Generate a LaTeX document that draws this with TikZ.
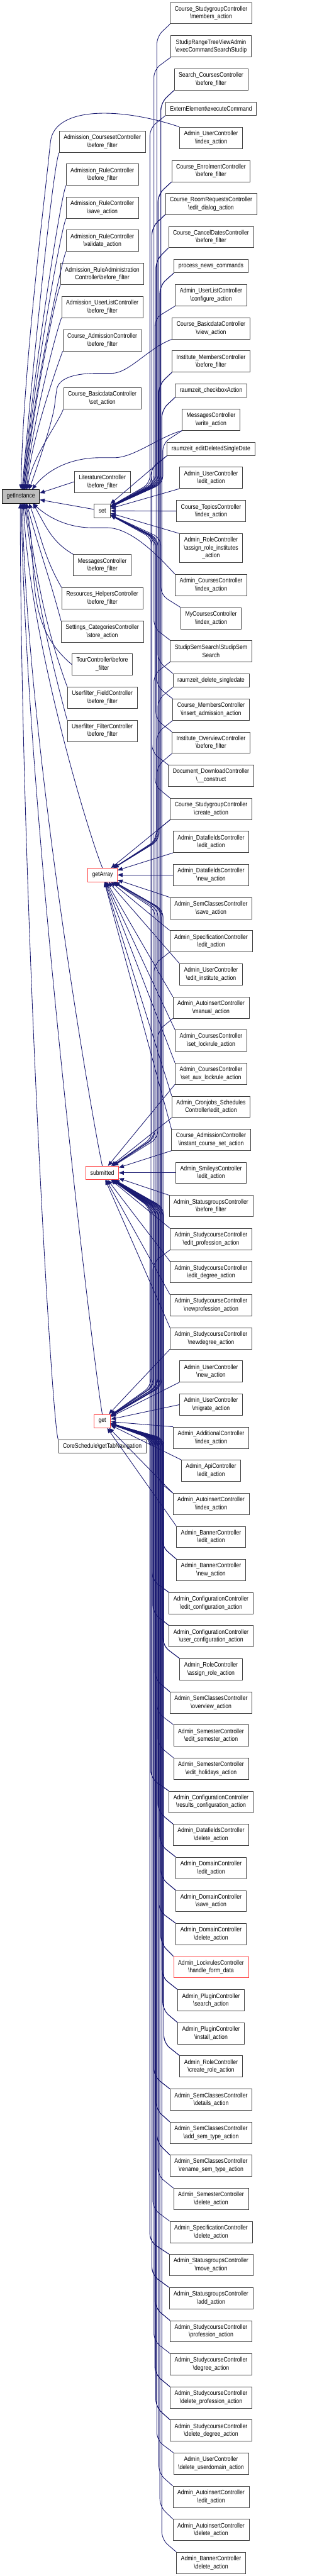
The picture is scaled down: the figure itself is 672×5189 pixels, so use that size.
\documentclass[tikz,border=0pt]{standalone}
\usepackage{fontspec}
\setmainfont{Liberation Sans}[FakeStretch=0.85]
\usetikzlibrary{arrows.meta, calc}
\definecolor{edgeblue}{RGB}{25,25,112}
\definecolor{boxgrey}{RGB}{64,64,64}
\definecolor{hotred}{RGB}{255,64,64}
\definecolor{rootgrey}{RGB}{191,191,191}
\newcommand{\bsl}{\textbackslash}

\begin{document}
\begin{tikzpicture}[x=1pt, y=1pt,
      fn/.style={draw=boxgrey, line width=1pt, fill=white, align=center, minimum height=43pt, inner xsep=9pt, font=\fontsize{13}{16}\selectfont},
      fn1/.style={fn, minimum height=27pt},
      fn3/.style={fn, minimum height=58pt},
      hot/.style={fn, draw=hotred},
      hub/.style={fn1, draw=hotred},
      root/.style={fn1, draw=black, fill=rootgrey},
      call/.style={draw=edgeblue, line width=1.1pt, rounded corners=15pt, -{Triangle[length=10pt,width=8pt]}},
      viadn/.style 2 args={to path={-- ($(\tikztostart -| \tikztotarget)+(#1,-25)$) -- ($(\tikztotarget)+(#1,#2)$) -- (\tikztotarget)}},
      viaup/.style 2 args={to path={-- ($(\tikztostart -| \tikztotarget)+(#1,25)$) -- ($(\tikztotarget)+(#1,-#2)$) -- (\tikztotarget)}},
    ]
      \useasboundingbox (0,0) rectangle (672,-5189);

      \node[root] (gi) at (42,-1000) {getInstance};
      \node[fn] (m1) at (206,-285.5) {Admission\_CoursesetController\\\bsl before\_filter};
      \node[fn] (m2) at (206,-352) {Admission\_RuleController\\\bsl before\_filter};
      \node[fn] (m3) at (206,-418.5) {Admission\_RuleController\\\bsl save\_action};
      \node[fn] (m4) at (206,-485) {Admission\_RuleController\\\bsl validate\_action};
      \node[fn] (m5) at (206,-552) {Admission\_RuleAdministration\\Controller\bsl before\_filter};
      \node[fn] (m6) at (206,-618.5) {Admission\_UserListController\\\bsl before\_filter};
      \node[fn] (m7) at (206,-685.5) {Course\_AdmissionController\\\bsl before\_filter};
      \node[fn] (m8) at (206,-802.5) {Course\_BasicdataController\\\bsl set\_action};
      \node[fn] (m9) at (206,-970.5) {LiteratureController\\\bsl before\_filter};
      \node[fn1] (set) at (206,-1029) {set};
      \node[fn] (m10) at (206,-1138.5) {MessagesController\\\bsl before\_filter};
      \node[fn] (m11) at (206,-1205.5) {Resources\_HelpersController\\\bsl before\_filter};
      \node[fn] (m12) at (206,-1272) {Settings\_CategoriesController\\\bsl store\_action};
      \node[fn] (m13) at (206,-1338.5) {TourController\bsl before\\\_filter};
      \node[fn] (m14) at (206,-1405.5) {Userfilter\_FieldController\\\bsl before\_filter};
      \node[fn] (m15) at (206,-1472) {Userfilter\_FilterController\\\bsl before\_filter};
      \node[hub] (ga) at (206.5,-1762.5) {getArray};
      \node[hub] (sub) at (206,-2362.5) {submitted};
      \node[hub] (get) at (206,-2862.5) {get};
      \node[fn1] (core) at (206,-2913.5) {CoreSchedule\bsl getTabNavigation};

      \node[fn] (r1) at (425,-26.5) {Course\_StudygroupController\\\bsl members\_action};
      \node[fn] (r2) at (425,-93.5) {StudipRangeTreeViewAdmin\\\bsl execCommandSearchStudip};
      \node[fn] (r3) at (425,-160) {Search\_CoursesController\\\bsl before\_filter};
      \node[fn1] (r4) at (425,-219) {ExternElement\bsl executeCommand};
      \node[fn] (r5) at (425,-277.5) {Admin\_UserController\\\bsl index\_action};
      \node[fn] (r6) at (425,-344.5) {Course\_EnrolmentController\\\bsl before\_filter};
      \node[fn] (r7) at (425,-410.5) {Course\_RoomRequestsController\\\bsl edit\_dialog\_action};
      \node[fn] (r8) at (425,-477.5) {Course\_CancelDatesController\\\bsl before\_filter};
      \node[fn1] (r9) at (425,-536) {process\_news\_commands};
      \node[fn] (r10) at (425,-594.5) {Admin\_UserListController\\\bsl configure\_action};
      \node[fn] (r11) at (425,-661.5) {Course\_BasicdataController\\\bsl view\_action};
      \node[fn] (r12) at (425,-728) {Institute\_MembersController\\\bsl before\_filter};
      \node[fn1] (r13) at (425,-786.5) {raumzeit\_checkboxAction};
      \node[fn] (r14) at (425,-845.5) {MessagesController\\\bsl write\_action};
      \node[fn1] (r15) at (425,-904) {raumzeit\_editDeletedSingleDate};
      \node[fn] (r16) at (425,-962.5) {Admin\_UserController\\\bsl edit\_action};
      \node[fn] (r17) at (425,-1029.5) {Course\_TopicsController\\\bsl index\_action};
      \node[fn3] (r18) at (425,-1104) {Admin\_RoleController\\\bsl assign\_role\_institutes\\\_action};
      \node[fn] (r19) at (425,-1178.5) {Admin\_CoursesController\\\bsl index\_action};
      \node[fn] (r20) at (425,-1245.5) {MyCoursesController\\\bsl index\_action};
      \node[fn] (r21) at (425,-1311.5) {StudipSemSearch\bsl StudipSem\\Search};
      \node[fn1] (r22) at (425,-1370.5) {raumzeit\_delete\_singledate};
      \node[fn] (r23) at (425,-1429.5) {Course\_MembersController\\\bsl insert\_admission\_action};
      \node[fn] (r24) at (425,-1496) {Institute\_OverviewController\\\bsl before\_filter};
      \node[fn] (r25) at (425,-1562.5) {Document\_DownloadController\\\bsl \_\_construct};
      \node[fn] (r26) at (425,-1629.5) {Course\_StudygroupController\\\bsl create\_action};
      \node[fn] (r27) at (425,-1696) {Admin\_DatafieldsController\\\bsl edit\_action};
      \node[fn] (r28) at (425,-1762.5) {Admin\_DatafieldsController\\\bsl new\_action};
      \node[fn] (r29) at (425,-1829.5) {Admin\_SemClassesController\\\bsl save\_action};
      \node[fn] (r30) at (425,-1896) {Admin\_SpecificationController\\\bsl edit\_action};
      \node[fn] (r31) at (425,-1962.5) {Admin\_UserController\\\bsl edit\_institute\_action};
      \node[fn] (r32) at (425,-2029.5) {Admin\_AutoinsertController\\\bsl manual\_action};
      \node[fn] (r33) at (425,-2096) {Admin\_CoursesController\\\bsl set\_lockrule\_action};
      \node[fn] (r34) at (425,-2162.5) {Admin\_CoursesController\\\bsl set\_aux\_lockrule\_action};
      \node[fn] (r35) at (425,-2229.5) {Admin\_Cronjobs\_Schedules\\Controller\bsl edit\_action};
      \node[fn] (r36) at (425,-2296) {Course\_AdmissionController\\\bsl instant\_course\_set\_action};
      \node[fn] (r37) at (425,-2362.5) {Admin\_SmileysController\\\bsl edit\_action};
      \node[fn] (r38) at (425,-2429.5) {Admin\_StatusgroupsController\\\bsl before\_filter};
      \node[fn] (r39) at (425,-2496) {Admin\_StudycourseController\\\bsl edit\_profession\_action};
      \node[fn] (r40) at (425,-2562.5) {Admin\_StudycourseController\\\bsl edit\_degree\_action};
      \node[fn] (r41) at (425,-2629.5) {Admin\_StudycourseController\\\bsl newprofession\_action};
      \node[fn] (r42) at (425,-2696) {Admin\_StudycourseController\\\bsl newdegree\_action};
      \node[fn] (r43) at (425,-2762.5) {Admin\_UserController\\\bsl new\_action};
      \node[fn] (r44) at (425,-2829.5) {Admin\_UserController\\\bsl migrate\_action};
      \node[fn] (r45) at (425,-2896) {Admin\_AdditionalController\\\bsl index\_action};
      \node[fn] (r46) at (425,-2962.5) {Admin\_ApiController\\\bsl edit\_action};
      \node[fn] (r47) at (425,-3029.5) {Admin\_AutoinsertController\\\bsl index\_action};
      \node[fn] (r48) at (425,-3096) {Admin\_BannerController\\\bsl edit\_action};
      \node[fn] (r49) at (425,-3162.5) {Admin\_BannerController\\\bsl new\_action};
      \node[fn] (r50) at (425,-3229.5) {Admin\_ConfigurationController\\\bsl edit\_configuration\_action};
      \node[fn] (r51) at (425,-3296) {Admin\_ConfigurationController\\\bsl user\_configuration\_action};
      \node[fn] (r52) at (425,-3362.5) {Admin\_RoleController\\\bsl assign\_role\_action};
      \node[fn] (r53) at (425,-3429.5) {Admin\_SemClassesController\\\bsl overview\_action};
      \node[fn] (r54) at (425,-3496) {Admin\_SemesterController\\\bsl edit\_semester\_action};
      \node[fn] (r55) at (425,-3562.5) {Admin\_SemesterController\\\bsl edit\_holidays\_action};
      \node[fn] (r56) at (425,-3629.5) {Admin\_ConfigurationController\\\bsl results\_configuration\_action};
      \node[fn] (r57) at (425,-3696) {Admin\_DatafieldsController\\\bsl delete\_action};
      \node[fn] (r58) at (425,-3762.5) {Admin\_DomainController\\\bsl edit\_action};
      \node[fn] (r59) at (425,-3829.5) {Admin\_DomainController\\\bsl save\_action};
      \node[fn] (r60) at (425,-3896) {Admin\_DomainController\\\bsl delete\_action};
      \node[hot] (r61) at (425,-3962.5) {Admin\_LockrulesController\\\bsl handle\_form\_data};
      \node[fn] (r62) at (425,-4029.5) {Admin\_PluginController\\\bsl search\_action};
      \node[fn] (r63) at (425,-4096) {Admin\_PluginController\\\bsl install\_action};
      \node[fn] (r64) at (425,-4162.5) {Admin\_RoleController\\\bsl create\_role\_action};
      \node[fn] (r65) at (425,-4229.5) {Admin\_SemClassesController\\\bsl details\_action};
      \node[fn] (r66) at (425,-4296) {Admin\_SemClassesController\\\bsl add\_sem\_type\_action};
      \node[fn] (r67) at (425,-4362.5) {Admin\_SemClassesController\\\bsl rename\_sem\_type\_action};
      \node[fn] (r68) at (425,-4429.5) {Admin\_SemesterController\\\bsl delete\_action};
      \node[fn] (r69) at (425,-4496) {Admin\_SpecificationController\\\bsl delete\_action};
      \node[fn] (r70) at (425,-4562.5) {Admin\_StatusgroupsController\\\bsl move\_action};
      \node[fn] (r71) at (425,-4629.5) {Admin\_StatusgroupsController\\\bsl add\_action};
      \node[fn] (r72) at (425,-4696) {Admin\_StudycourseController\\\bsl profession\_action};
      \node[fn] (r73) at (425,-4762.5) {Admin\_StudycourseController\\\bsl degree\_action};
      \node[fn] (r74) at (425,-4829.5) {Admin\_StudycourseController\\\bsl delete\_profession\_action};
      \node[fn] (r75) at (425,-4896) {Admin\_StudycourseController\\\bsl delete\_degree\_action};
      \node[fn] (r76) at (425,-4962.5) {Admin\_UserController\\\bsl delete\_userdomain\_action};
      \node[fn] (r77) at (425,-5029.5) {Admin\_AutoinsertController\\\bsl edit\_action};
      \node[fn] (r78) at (425,-5096) {Admin\_AutoinsertController\\\bsl delete\_action};
      \node[fn] (r79) at (425,-5162.5) {Admin\_BannerController\\\bsl delete\_action};

      \draw[call] (m1.south west) to[out=250, in=85, out distance=40pt, in distance=220pt] (gi.80);
      \draw[call] (m2.south west) to[out=250, in=85, out distance=40pt, in distance=200pt] (gi.75);
      \draw[call] (m3.south west) to[out=250, in=85, out distance=40pt, in distance=180pt] (gi.70);
      \draw[call] (m4.south west) to[out=250, in=85, out distance=40pt, in distance=160pt] (gi.65);
      \draw[call] (m5.south west) to[out=250, in=85, out distance=40pt, in distance=140pt] (gi.60);
      \draw[call] (m6.south west) to[out=250, in=85, out distance=40pt, in distance=120pt] (gi.55);
      \draw[call] (m7.south west) to[out=250, in=85, out distance=40pt, in distance=100pt] (gi.50);
      \draw[call] (m8.south west) to[out=250, in=85, out distance=30pt, in distance=60pt] (gi.45);
      \draw[call] (m9.west) -- (gi.10); \draw[call] (set) -- (gi.-10);
      \draw[call] (m10.north west) to[out=150, in=-60] (gi.-30);
      \draw[call] (m11.north west) to[out=120, in=-70] (gi.-40);
      \draw[call] (m12.north west) to[out=105, in=-75] (gi.-50);
      \draw[call] (m13.west) to[out=140, in=-78] (gi.-55);
      \draw[call] (m14.north west) to[out=110, in=-80] (gi.-60);
      \draw[call] (m15.north west) to[out=105, in=-82] (gi.-65);
      \draw[call] (ga.north) .. controls (185,-1700) and (60,-1300) .. (gi.-70);
      \draw[call] (sub.north) .. controls (185,-2250) and (55,-1500) .. (gi.-78);
      \draw[call] (get.north) .. controls (190,-2760) and (50,-1600) .. (gi.-85);
      \draw[call] (core.north west) .. controls (105,-2880) and (42,-1800) .. (gi.-95);

      \draw[call] (r5.north west) .. controls (240,-215) and (110,-215) .. (100,-300) .. controls (90,-400) and (45,-760) .. (gi.88);
      \draw[call] (r11.south west) .. controls (300,-700) and (260,-752) .. (210,-752) .. controls (160,-752) and (118,-758) .. (112,-800) .. controls (106,-850) and (75,-940) .. (gi.40);
      \draw[call] (r14.south west) .. controls (320,-880) and (270,-922) .. (215,-922) .. controls (160,-922) and (105,-935) .. (gi.32);
      \draw[call] (r19.north west) .. controls (310,-1110) and (260,-1063) .. (200,-1063) .. controls (140,-1063) and (100,-1045) .. (gi.-30);

      \draw[call] (r1.south west) to[viadn={110}{55}] (set); \draw[call] (r2.south west) to[viadn={104}{55}] (set);
      \draw[call] (r3.south west) to[viadn={118}{55}] (set); \draw[call] (r4.south west) to[viadn={96}{55}] (set);
      \draw[call] (r6.south west) to[viadn={112}{55}] (set); \draw[call] (r7.south west) to[viadn={100}{55}] (set);
      \draw[call] (r8.south west) to[viadn={108}{55}] (set); \draw[call] (r9.south west) to[viadn={116}{55}] (set);
      \draw[call] (r10.south west) to[viadn={106}{55}] (set); \draw[call] (r12.south west) to[viadn={114}{55}] (set);
      \draw[call] (r13.south west) to[viadn={120}{55}] (set); \draw[call] (r14.south west) to[viadn={122}{55}] (set);
      \draw[call] (r15.south west) -- (set); \draw[call] (r16.south west) -- (set);
      \draw[call] (r17.west) -- (set); \draw[call] (r18.north west) -- (set);
      \draw[call] (r20.north west) to[viaup={118}{55}] (set); \draw[call] (r21.north west) to[viaup={104}{55}] (set);
      \draw[call] (r22.north west) to[viaup={112}{55}] (set); \draw[call] (r23.north west) to[viaup={110}{55}] (set);
      \draw[call] (r24.north west) to[viaup={108}{55}] (set); \draw[call] (r25.north west) to[viaup={100}{55}] (set);
      \draw[call] (r26.north west) to[viaup={106}{55}] (set);

      \draw[call] (r6.south west) to[viadn={112}{70}] (ga); \draw[call] (r8.south west) to[viadn={108}{70}] (ga);
      \draw[call] (r12.south west) to[viadn={114}{70}] (ga); \draw[call] (r24.south west) to[viadn={110}{70}] (ga);
      \draw[call] (r26.south west) -- (ga); \draw[call] (r27.south west) -- (ga);
      \draw[call] (r28.west) -- (ga); \draw[call] (r29.north west) -- (ga);
      \draw[call] (r30.north west) -- (ga); \draw[call] (r31.north west) -- (ga);
      \draw[call] (r32.north west) -- (ga); \draw[call] (r33.north west) -- (ga);
      \draw[call] (r34.north west) -- (ga); \draw[call] (r35.north west) -- (ga);
      \draw[call] (r36.north west) -- (ga);
      \draw[call] (r49.north west) to[viaup={120}{70}] (ga); \draw[call] (r52.north west) to[viaup={122}{70}] (ga);
      \draw[call] (r57.north west) to[viaup={112}{70}] (ga); \draw[call] (r61.north west) to[viaup={118}{70}] (ga);
      \draw[call] (r72.north west) to[viaup={106}{70}] (ga);

      \draw[call] (r7.south west) to[viadn={100}{70}] (sub); \draw[call] (r21.south west) to[viadn={104}{70}] (sub);
      \draw[call] (r26.south west) to[viadn={106}{70}] (sub); \draw[call] (r32.south west) to[viadn={112}{70}] (sub);
      \draw[call] (r34.south west) -- (sub); \draw[call] (r35.south west) -- (sub);
      \draw[call] (r36.south west) -- (sub); \draw[call] (r37.west) -- (sub);
      \draw[call] (r38.north west) -- (sub); \draw[call] (r39.north west) -- (sub);
      \draw[call] (r40.north west) -- (sub); \draw[call] (r41.north west) -- (sub);
      \draw[call] (r42.north west) -- (sub);
      \draw[call] (r47.north west) to[viaup={112}{70}] (sub); \draw[call] (r50.north west) to[viaup={100}{70}] (sub);
      \draw[call] (r51.north west) to[viaup={102}{70}] (sub); \draw[call] (r53.north west) to[viaup={106}{70}] (sub);
      \draw[call] (r56.north west) to[viaup={98}{70}] (sub); \draw[call] (r58.north west) to[viaup={116}{70}] (sub);
      \draw[call] (r59.north west) to[viaup={118}{70}] (sub); \draw[call] (r60.north west) to[viaup={114}{70}] (sub);
      \draw[call] (r62.north west) to[viaup={120}{70}] (sub); \draw[call] (r63.north west) to[viaup={122}{70}] (sub);
      \draw[call] (r64.north west) to[viaup={124}{70}] (sub); \draw[call] (r65.north west) to[viaup={104}{70}] (sub);
      \draw[call] (r66.north west) to[viaup={108}{70}] (sub); \draw[call] (r67.north west) to[viaup={110}{70}] (sub);
      \draw[call] (r70.north west) to[viaup={96}{70}] (sub); \draw[call] (r71.north west) to[viaup={100}{70}] (sub);
      \draw[call] (r74.north west) to[viaup={106}{70}] (sub); \draw[call] (r75.north west) to[viaup={108}{70}] (sub);

      \draw[call] (r3.south west) to[viadn={118}{70}] (get); \draw[call] (r9.south west) to[viadn={116}{70}] (get);
      \draw[call] (r13.south west) to[viadn={120}{70}] (get); \draw[call] (r15.south west) to[viadn={98}{70}] (get);
      \draw[call] (r22.south west) to[viadn={112}{70}] (get); \draw[call] (r23.south west) to[viadn={110}{70}] (get);
      \draw[call] (r30.south west) to[viadn={104}{70}] (get); \draw[call] (r39.south west) to[viadn={102}{70}] (get);
      \draw[call] (r42.south west) -- (get); \draw[call] (r43.south west) -- (get);
      \draw[call] (r44.west) -- (get); \draw[call] (r45.north west) -- (get);
      \draw[call] (r46.north west) -- (get); \draw[call] (r47.north west) -- (get);
      \draw[call] (r48.north west) -- (get);
      \draw[call] (r49.north west) to[viaup={120}{35}] (get); \draw[call] (r50.north west) to[viaup={100}{35}] (get);
      \draw[call] (r51.north west) to[viaup={102}{35}] (get); \draw[call] (r52.north west) to[viaup={122}{35}] (get);
      \draw[call] (r53.north west) to[viaup={106}{35}] (get); \draw[call] (r54.north west) to[viaup={110}{35}] (get);
      \draw[call] (r55.north west) to[viaup={112}{35}] (get); \draw[call] (r56.north west) to[viaup={98}{35}] (get);
      \draw[call] (r57.north west) to[viaup={112}{35}] (get); \draw[call] (r58.north west) to[viaup={116}{35}] (get);
      \draw[call] (r59.north west) to[viaup={118}{35}] (get); \draw[call] (r60.north west) to[viaup={114}{35}] (get);
      \draw[call] (r61.north west) to[viaup={118}{35}] (get); \draw[call] (r62.north west) to[viaup={120}{35}] (get);
      \draw[call] (r63.north west) to[viaup={122}{35}] (get); \draw[call] (r64.north west) to[viaup={124}{35}] (get);
      \draw[call] (r65.north west) to[viaup={104}{35}] (get); \draw[call] (r66.north west) to[viaup={108}{35}] (get);
      \draw[call] (r67.north west) to[viaup={110}{35}] (get); \draw[call] (r68.north west) to[viaup={112}{35}] (get);
      \draw[call] (r69.north west) to[viaup={102}{35}] (get); \draw[call] (r70.north west) to[viaup={96}{35}] (get);
      \draw[call] (r71.north west) to[viaup={100}{35}] (get); \draw[call] (r72.north west) to[viaup={106}{35}] (get);
      \draw[call] (r73.north west) to[viaup={104}{35}] (get); \draw[call] (r74.north west) to[viaup={106}{35}] (get);
      \draw[call] (r75.north west) to[viaup={108}{35}] (get); \draw[call] (r76.north west) to[viaup={110}{35}] (get);
      \draw[call] (r77.north west) to[viaup={114}{35}] (get); \draw[call] (r78.north west) to[viaup={116}{35}] (get);
      \draw[call] (r79.north west) to[viaup={120}{35}] (get);
    \end{tikzpicture}
\end{document}
